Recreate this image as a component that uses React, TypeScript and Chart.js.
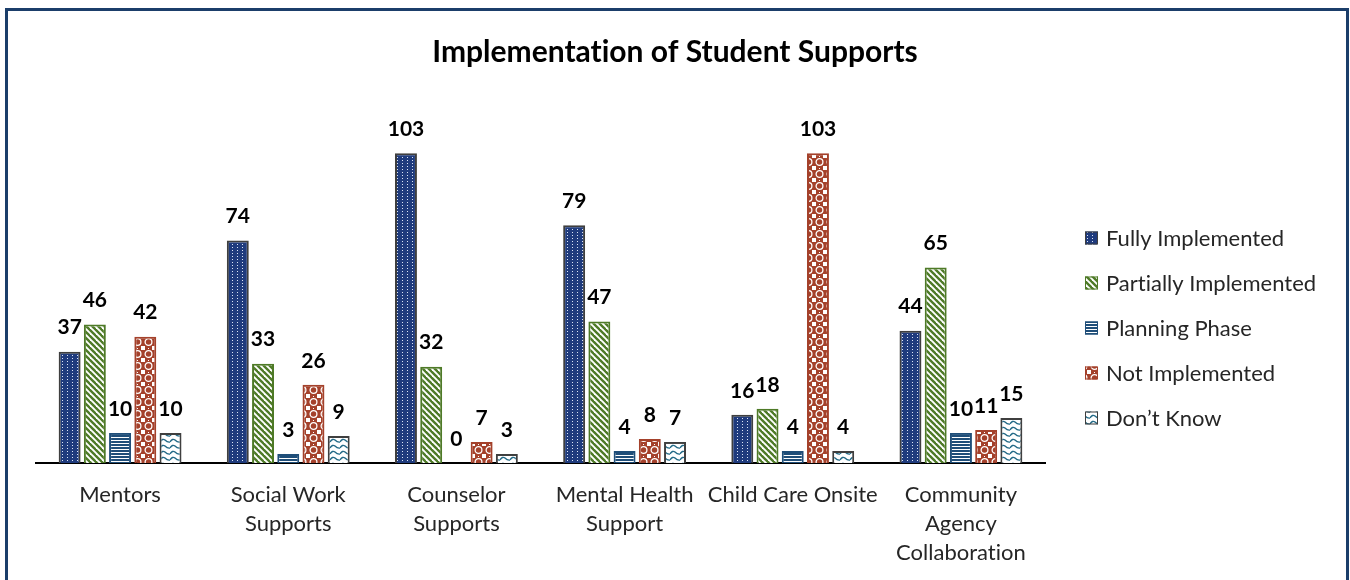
import React, { useEffect, useRef } from "react";
import { Chart, registerables } from "chart.js";

Chart.register(...registerables);

// ---- Data ----
const categories: (string | string[])[] = [
  "Mentors",
  ["Social Work", "Supports"],
  ["Counselor", "Supports"],
  ["Mental Health", "Support"],
  "Child Care Onsite",
  ["Community", "Agency", "Collaboration"],
];
const seriesNames = [
  "Fully Implemented",
  "Partially Implemented",
  "Planning Phase",
  "Not Implemented",
  "Don\u2019t Know",
];
const fullyImplemented = [37, 74, 103, 79, 16, 44];
const partiallyImplemented = [46, 33, 32, 47, 18, 65];
const planningPhase = [10, 3, 0, 4, 4, 10];
const notImplemented = [42, 26, 7, 8, 103, 11];
const dontKnow = [10, 9, 3, 7, 4, 15];
const titleText = "Implementation of Student Supports";
const yMax = 120;

const FONT = "Lato, 'Open Sans', sans-serif";

function tile(w: number, h: number, draw: (g: CanvasRenderingContext2D) => void) {
  const c = document.createElement("canvas");
  c.width = w;
  c.height = h;
  const g = c.getContext("2d")!;
  draw(g);
  return c;
}

function makePatterns(ctx: CanvasRenderingContext2D) {
  const fully = tile(5, 3, (g) => {
    g.fillStyle = "#1F3B7D";
    g.fillRect(0, 0, 5, 3);
    g.fillStyle = "#DCE4F4";
    g.fillRect(2, 1, 1, 1);
  });
  const partial = tile(6, 6, (g) => {
    g.fillStyle = "#FFFFFF";
    g.fillRect(0, 0, 6, 6);
    g.strokeStyle = "#4E7A27";
    g.lineWidth = 2.4;
    for (const o of [-6, 0, 6]) {
      g.beginPath();
      g.moveTo(o - 1, -1);
      g.lineTo(o + 7, 7);
      g.stroke();
    }
  });
  const planning = tile(4, 3, (g) => {
    g.fillStyle = "#1F4E79";
    g.fillRect(0, 0, 4, 3);
    g.fillStyle = "#FFFFFF";
    g.fillRect(0, 2, 4, 1);
  });
  const notImpl = tile(11, 12, (g) => {
    g.fillStyle = "#A4412B";
    g.fillRect(0, 0, 11, 12);
    g.strokeStyle = "#FFFFFF";
    g.lineWidth = 1.3;
    g.beginPath();
    g.arc(5.5, 6, 3.4, 0, Math.PI * 2);
    g.stroke();
    g.fillStyle = "#FFFFFF";
    g.fillRect(0, 0, 2, 2);
    g.fillRect(9, 0, 2, 2);
    g.fillRect(0, 10, 2, 2);
    g.fillRect(9, 10, 2, 2);
    g.fillRect(5, 0, 1, 1);
  });
  const dk = tile(10, 6, (g) => {
    g.fillStyle = "#FFFFFF";
    g.fillRect(0, 0, 10, 6);
    g.strokeStyle = "#236A87";
    g.lineWidth = 1.4;
    g.beginPath();
    g.moveTo(0, 4);
    g.quadraticCurveTo(2.5, 0, 5, 2);
    g.quadraticCurveTo(7.5, 4.5, 10, 4);
    g.stroke();
  });
  return [fully, partial, planning, notImpl, dk].map((t) => ctx.createPattern(t, "repeat")!);
}

const borderColors = ["#3F3F3F", "#4E7A27", "#1F4E79", "#A4412B", "#3F3F3F"];

export default function App() {
  const ref = useRef<HTMLCanvasElement | null>(null);

  useEffect(() => {
    const canvas = ref.current!;
    const ctx = canvas.getContext("2d")!;
    const patterns = makePatterns(ctx);
    const seriesValues = [fullyImplemented, partiallyImplemented, planningPhase, notImplemented, dontKnow];

    const noLigatures = {
      id: "noLigatures",
      beforeDraw(chart: any) {
        try {
          (chart.ctx as any).textRendering = "optimizeSpeed";
        } catch (e) {
          /* ignore */
        }
      },
    };

    const labelPlugin = {
      id: "valueLabels",
      afterDatasetsDraw(chart: any) {
        const c = chart.ctx;
        c.save();
        c.font = `bold 21px ${FONT}`;
        c.fillStyle = "#000000";
        c.textAlign = "center";
        c.textBaseline = "middle";
        chart.data.datasets.forEach((ds: any, di: number) => {
          const meta = chart.getDatasetMeta(di);
          meta.data.forEach((el: any, i: number) => {
            c.fillText(String(ds.data[i]), el.x, el.y - 24);
          });
        });
        c.restore();
      },
    };

    const legendPlugin = {
      id: "sideLegend",
      afterDraw(chart: any) {
        const c = chart.ctx;
        const area = chart.chartArea;
        c.save();
        c.font = `22px ${FONT}`;
        c.textBaseline = "middle";
        c.textAlign = "left";
        chart.data.datasets.forEach((ds: any, i: number) => {
          const y = area.top + 136 + i * 45;
          const x = area.right + 40;
          c.fillStyle = ds.backgroundColor;
          c.fillRect(x, y - 6.5, 13, 13);
          c.strokeStyle = ds.borderColor;
          c.lineWidth = 1;
          c.strokeRect(x + 0.5, y - 6, 12, 12);
          c.fillStyle = "#262626";
          c.fillText(ds.label, x + 21, y + 1);
        });
        c.restore();
      },
    };

    const chart = new Chart(canvas, {
      type: "bar",
      data: {
        labels: categories,
        datasets: seriesNames.map((name, i) => ({
          label: name,
          data: seriesValues[i],
          backgroundColor: patterns[i] as any,
          borderColor: borderColors[i],
          borderWidth: 2,
          categoryPercentage: 0.75,
          barPercentage: 0.87,
        })),
      },
      options: {
        animation: false,
        responsive: false,
        maintainAspectRatio: false,
        layout: { padding: 0 },
        plugins: {
          legend: { display: false },
          tooltip: { enabled: false },
          title: {
            display: true,
            text: titleText,
            color: "#000000",
            font: { family: FONT, size: 30, weight: "bold", lineHeight: "30px" } as any,
            padding: { top: 37, bottom: 35 },
          },
        },
        scales: {
          x: {
            grid: { display: false, drawTicks: false },
            border: { display: true, color: "#000000", width: 2 },
            ticks: {
              color: "#262626",
              font: { family: FONT, size: 22, lineHeight: "29px" } as any,
              padding: 17,
              maxRotation: 0,
              autoSkip: false,
            },
            afterFit: (axis: any) => {
              axis.height = 117;
            },
          },
          y: {
            min: 0,
            max: yMax,
            grid: { display: false, drawTicks: false },
            border: { display: false },
            ticks: { display: false },
            afterFit: (axis: any) => {
              axis.width = 36;
            },
          },
          yRight: {
            position: "right",
            min: 0,
            max: 1,
            grid: { display: false, drawTicks: false },
            border: { display: false },
            ticks: { display: false },
            afterFit: (axis: any) => {
              axis.width = 305;
            },
          },
        } as any,
      },
      plugins: [noLigatures, labelPlugin, legendPlugin],
    });
    return () => chart.destroy();
  }, []);

  return (
    <div style={{ position: "absolute", left: 0, top: 0, width: 1350, height: 580, overflow: "hidden", background: "#ffffff" }}>
      <div
        style={{
          position: "absolute",
          left: 5,
          top: 8,
          width: 1338,
          height: 640,
          border: "3px solid #1B3E6A",
          boxSizing: "content-box",
        }}
      />
      <canvas ref={ref} width={1350} height={580} style={{ position: "absolute", left: 0, top: 0 }} />
    </div>
  );
}
